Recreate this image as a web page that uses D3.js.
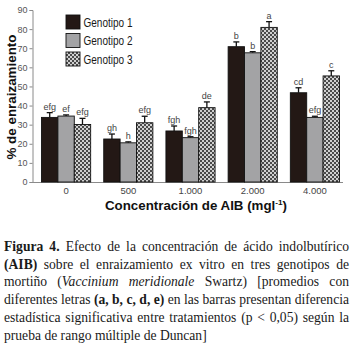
<!DOCTYPE html>
<html><head><meta charset="utf-8">
<script src="https://cdn.jsdelivr.net/npm/d3@7"></script>
<style>
html,body{margin:0;padding:0;background:#fff;}
#wrap{position:relative;width:353px;height:351px;overflow:hidden;}
#cap{position:absolute;left:4px;top:238px;width:345px;font-family:"Liberation Serif","Times New Roman",serif;font-size:13.6px;line-height:17.7px;color:#1a1a1a;}
#cap div{text-align:justify;text-align-last:justify;}
#cap div.last{text-align-last:left;}
</style></head>
<body><div id="wrap"><svg id="chart" width="353" height="236"></svg>
<div id="cap">
<div><b>Figura 4.</b> Efecto de la concentración de ácido indolbutírico</div>
<div><b>(AIB)</b> sobre el enraizamiento ex vitro en tres genotipos de</div>
<div>mortiño (<i>Vaccinium meridionale</i> Swartz) [promedios con</div>
<div>diferentes letras <b>(a, b, c, d, e)</b> en las barras presentan diferencia</div>
<div>estadística significativa entre tratamientos (p &lt; 0,05) según la</div>
<div class="last">prueba de rango múltiple de Duncan]</div>
</div></div>
<script>
const categories = ["0", "500", "1.000", "2.000", "4.000"];
const seriesNames = ["Genotipo 1", "Genotipo 2", "Genotipo 3"];
const genotipo1 = [33.8, 22.5, 26.7, 70.8, 46.7];
const genotipo2 = [34.5, 20.5, 23.2, 67.6, 33.8];
const genotipo3 = [30.1, 31.0, 38.9, 80.9, 55.5];
const error1 = [2.5, 2.6, 2.6, 2.5, 2.6];
const error2 = [0.6, 0.5, 0.5, 0.6, 0.6];
const error3 = [3.2, 3.4, 3.0, 3.0, 2.7];
const letters1 = ["efg", "gh", "fgh", "b", "cd"];
const letters2 = ["ef", "h", "fgh", "b", "efg"];
const letters3 = ["efg", "efg", "de", "a", "c"];
const yTicks = [0, 10, 20, 30, 40, 50, 60, 70, 80, 90];

const svg = d3.select("#chart");
const defs = svg.append("defs");
const pat = defs.append("pattern").attr("id","checker").attr("patternUnits","userSpaceOnUse")
  .attr("width",4).attr("height",4);
pat.append("rect").attr("width",4).attr("height",4).attr("fill","#d0d0d0");
pat.append("rect").attr("width",2).attr("height",2).attr("fill","#4a4a4a");
pat.append("rect").attr("x",2).attr("y",2).attr("width",2).attr("height",2).attr("fill","#4a4a4a");

const fills = ["#231815", "#a3a3a5", "url(#checker)"];
const series = [genotipo1, genotipo2, genotipo3];
const errors = [error1, error2, error3];
const letters = [letters1, letters2, letters3];

const x0 = d3.scaleBand().domain(categories).range([35, 346]).paddingInner(0.21).paddingOuter(0.105);
const x1 = d3.scaleBand().domain(seriesNames).range([0, x0.bandwidth()]);
const y = d3.scaleLinear().domain([0, 90]).range([182, 10]);

// axes
const yAxis = svg.append("g").attr("transform","translate(32.5,0)")
  .call(d3.axisLeft(y).tickValues(yTicks).tickSize(3).tickPadding(2));
yAxis.selectAll("path,line").attr("stroke","#8a8a8a");
yAxis.selectAll("text").attr("fill","#555").style("font-family","Arial, 'Liberation Sans', sans-serif").style("font-size","9px");

const xAxis = svg.append("g").attr("transform","translate(0,182.5)")
  .call(d3.axisBottom(x0).tickSize(0).tickPadding(5));
xAxis.select(".domain").attr("d","M32.5,0H343").attr("stroke","#8a8a8a");
xAxis.selectAll("text").attr("fill","#444").style("font-family","Arial, 'Liberation Sans', sans-serif").style("font-size","9.5px");

// bars
const data = [];
categories.forEach((c, i) => seriesNames.forEach((s, j) => data.push({c, s, j, v: series[j][i], e: errors[j][i], l: letters[j][i]})));

const g = svg.append("g");
const bx = d => x0(d.c) + x1(d.s);
const bw = x1.bandwidth();

g.selectAll("line.err").data(data).join("line").attr("class","err")
  .attr("x1", d => bx(d) + bw/2).attr("x2", d => bx(d) + bw/2)
  .attr("y1", d => y(d.v)).attr("y2", d => y(d.v + d.e))
  .attr("stroke","#111").attr("stroke-width",1.3);
g.selectAll("line.cap").data(data).join("line").attr("class","cap")
  .attr("x1", d => bx(d) + bw/2 - 3).attr("x2", d => bx(d) + bw/2 + 3)
  .attr("y1", d => y(d.v + d.e)).attr("y2", d => y(d.v + d.e))
  .attr("stroke","#111").attr("stroke-width",1.3);
g.selectAll("rect.bar").data(data).join("rect").attr("class","bar")
  .attr("x", d => bx(d)).attr("width", bw)
  .attr("y", d => y(d.v)).attr("height", d => y(0) - y(d.v))
  .attr("fill", d => fills[d.j]).attr("stroke","#111").attr("stroke-width",0.9);
g.selectAll("text.lab").data(data).join("text").attr("class","lab")
  .attr("x", d => bx(d) + bw/2).attr("y", d => y(d.v + d.e) - 3)
  .attr("text-anchor","middle").attr("fill","#444")
  .style("font-family","'Liberation Sans', Arial, sans-serif").style("font-size","9px")
  .text(d => d.l);

// legend
const leg = svg.append("g");
seriesNames.forEach((s, j) => {
  const yy = 15 + j * 18.5;
  leg.append("rect").attr("x",66).attr("y",yy).attr("width",14).attr("height",14)
    .attr("fill",fills[j]).attr("stroke","#111").attr("stroke-width",0.9);
  leg.append("text").attr("x",83.5).attr("y",yy+11.5).attr("fill","#1a1a1a")
    .style("font-family","Arial, 'Liberation Sans', sans-serif").style("font-size","12.5px")
    .attr("textLength",49).attr("lengthAdjust","spacingAndGlyphs").text(s);
});

// axis titles
svg.append("text").attr("transform","translate(16,97) rotate(-90)").attr("text-anchor","middle")
  .attr("fill","#111").style("font-family","Arial, 'Liberation Sans', sans-serif").style("font-weight","bold").style("font-size","13px")
  .attr("textLength",125).attr("lengthAdjust","spacingAndGlyphs").text("% de enraizamiento");

const xt = svg.append("text").attr("x",105).attr("y",210).attr("fill","#111")
  .style("font-family","Arial, 'Liberation Sans', sans-serif").style("font-weight","bold").style("font-size","13px")
  .attr("textLength",182).attr("lengthAdjust","spacingAndGlyphs");
xt.append("tspan").text("Concentración de AIB (mgl");
xt.append("tspan").attr("dy",-5).style("font-size","8px").text("-1");
xt.append("tspan").attr("dy",5).text(")");
</script></body></html>
